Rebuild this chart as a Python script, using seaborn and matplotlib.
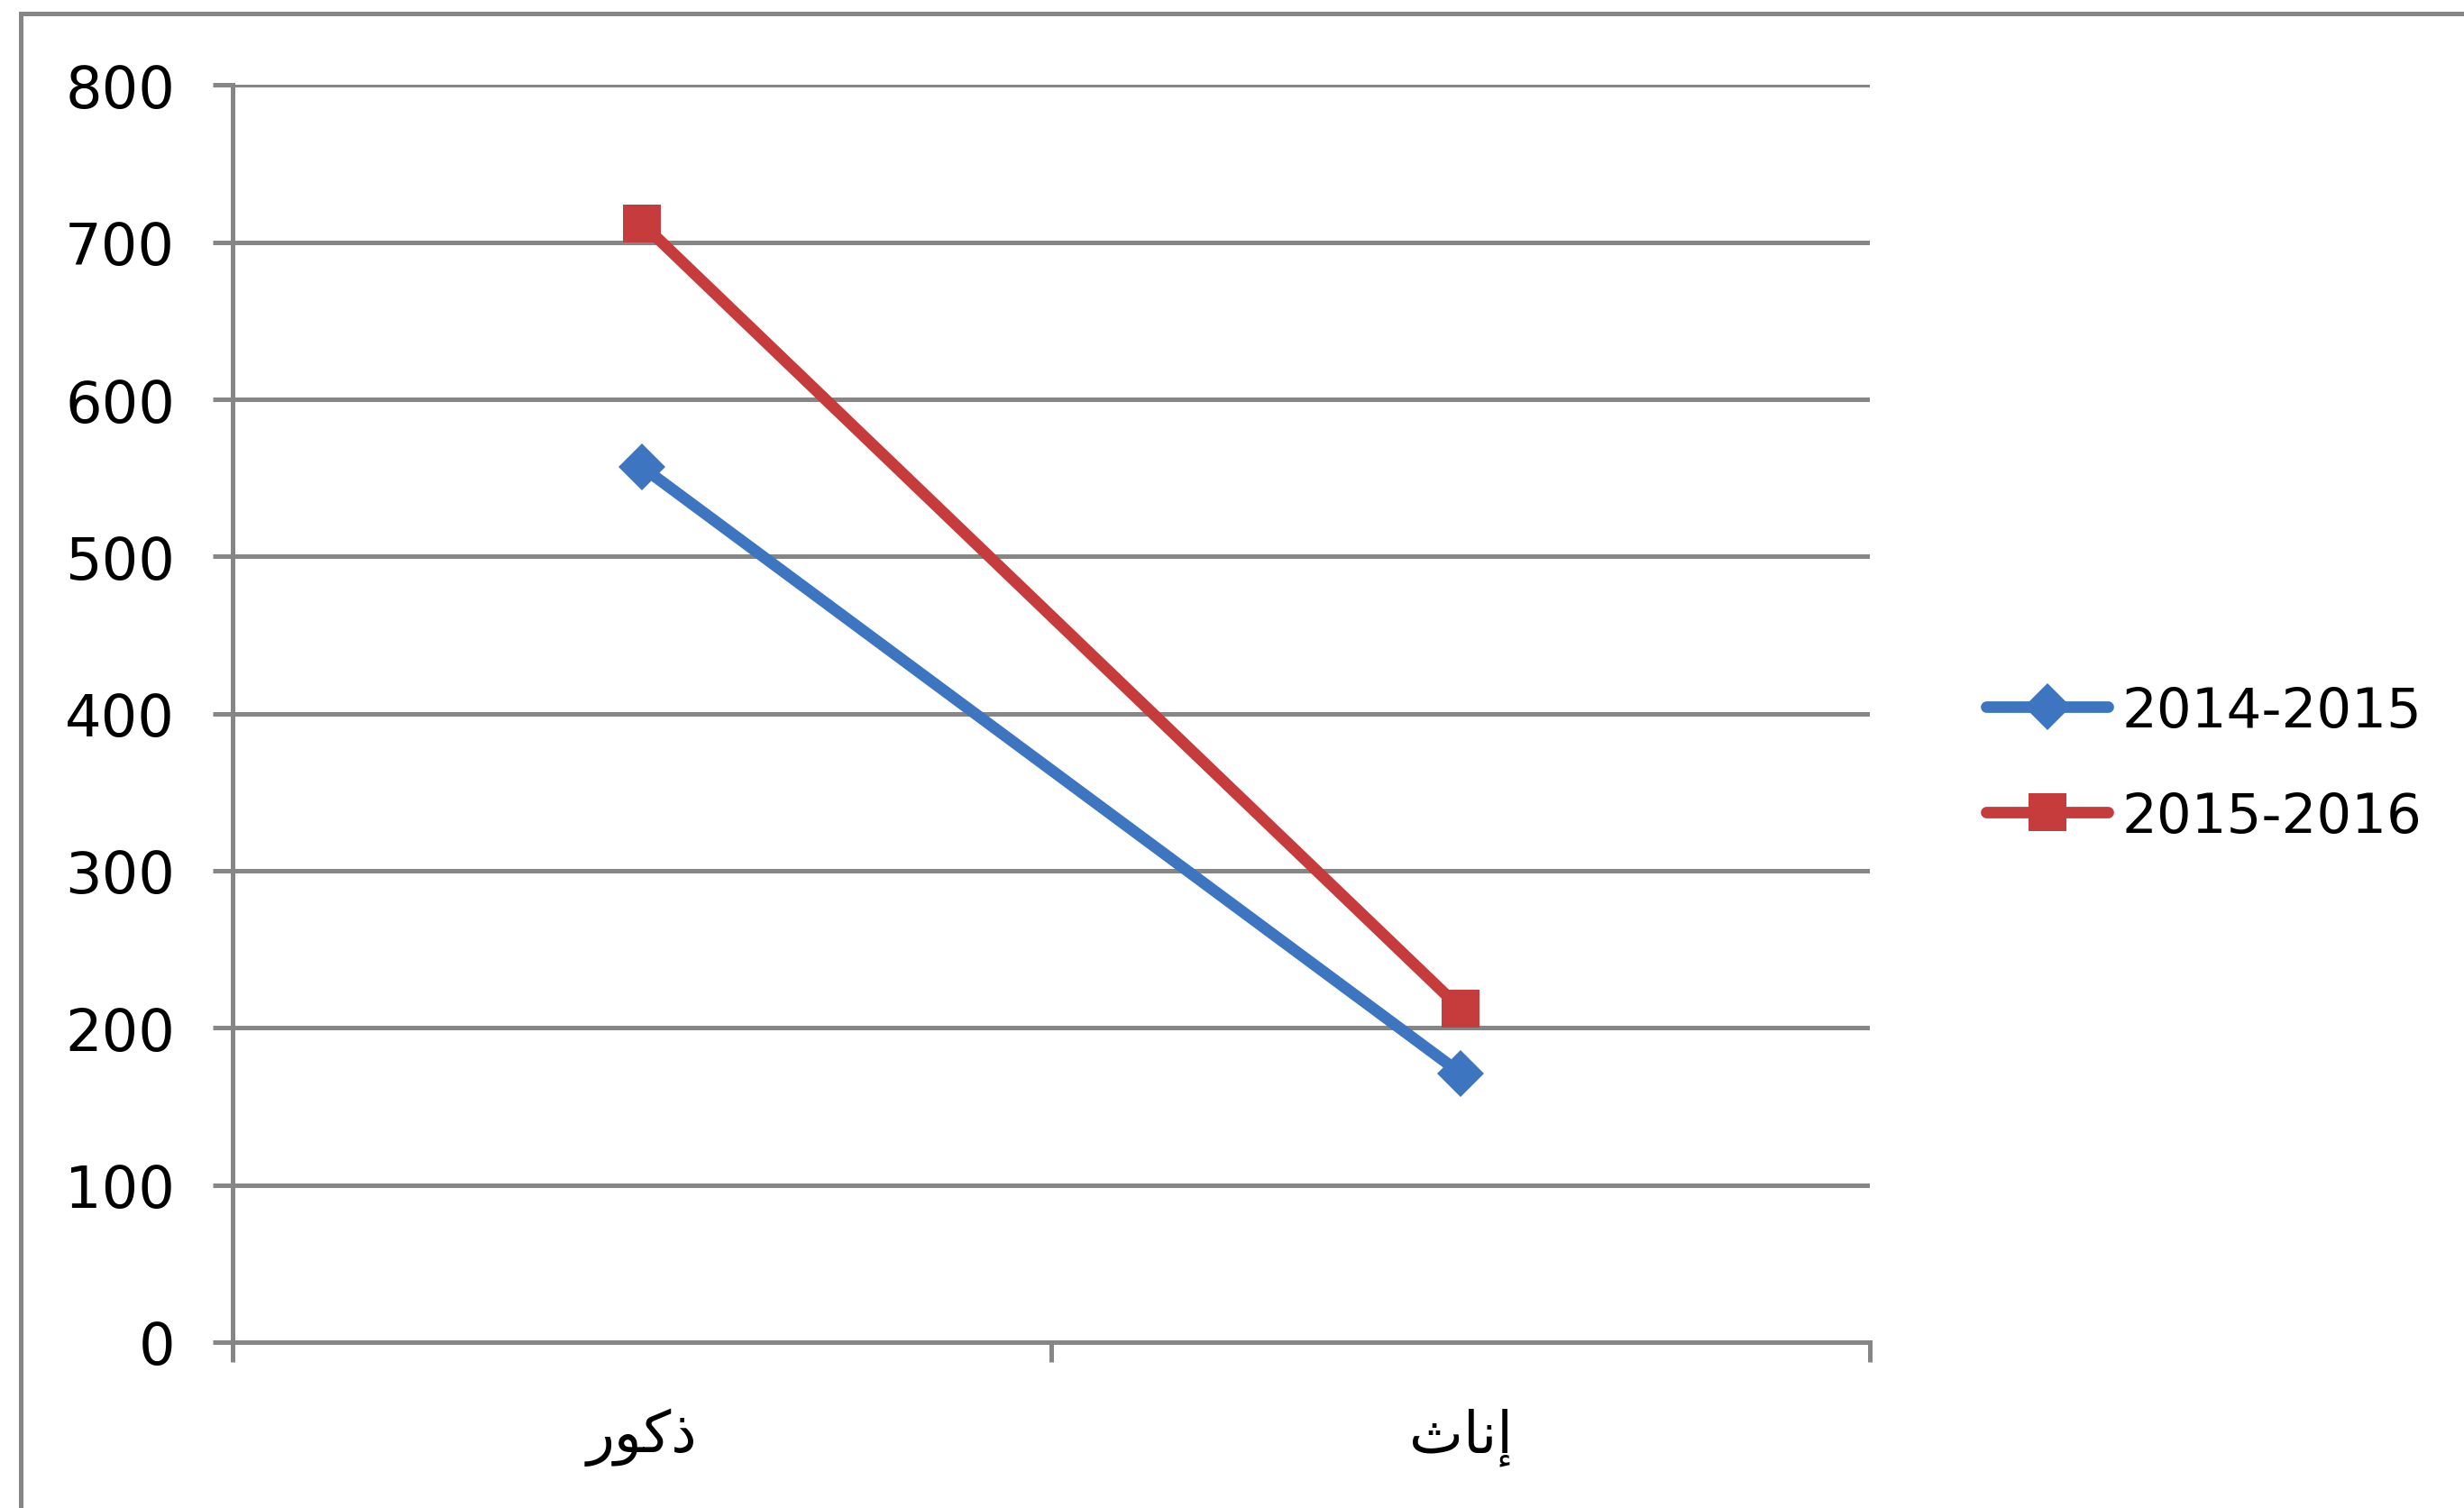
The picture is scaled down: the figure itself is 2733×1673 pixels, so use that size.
import matplotlib
matplotlib.use("agg")
import matplotlib.pyplot as plt
from matplotlib.patches import Rectangle
import pandas as pd
import seaborn as sns

# categories (logical Arabic) and their shaped display forms (visual order)
categories = ["ذكور", "إناث"]
display_labels = ["\uFEAD\uFEEE\uFEDB\uFEAB", "\uFE99\uFE8E\uFEE7\uFE87"]
series_names = ["2014-2015", "2015-2016"]
values_2014 = [557, 171]
values_2015 = [712, 212]
y_ticks = [0, 100, 200, 300, 400, 500, 600, 700, 800]

blue = "#3D75C0"
red = "#C63B3B"
grid_gray = "#868686"

df = pd.DataFrame({
    "category": display_labels * 2,
    "value": values_2014 + values_2015,
    "season": [series_names[0]] * 2 + [series_names[1]] * 2,
})

sns.set_style("white")
plt.rcParams["font.family"] = ["DejaVu Sans"]
plt.rcParams["text.color"] = "black"
plt.rcParams["xtick.labelcolor"] = "black"
plt.rcParams["ytick.labelcolor"] = "black"

fig = plt.figure(figsize=(13.665, 8.37), dpi=200)
ax = fig.add_axes([0.0944, 0.110, 0.6646, 0.833])

sns.lineplot(data=df, x="category", y="value", hue="season", style="season",
             palette=[blue, red], markers=["D", "s"], dashes=False,
             linewidth=4.6, markeredgewidth=0, ax=ax, sort=False)
marker_sizes = [13, 15]
for line, ms in zip(ax.lines[:2], marker_sizes):
    line.set_markersize(ms)

ax.set_xlim(-0.5, 1.5)
ax.set_ylim(0, 800)
ax.set_yticks(y_ticks)
ax.set_xticks([0, 1])
ax.set_xticklabels(display_labels)
ax.set_xticks([-0.5, 0.5, 1.5], minor=True)
ax.set_xlabel("")
ax.set_ylabel("")

ax.yaxis.grid(True, color=grid_gray, linewidth=1.8)
ax.xaxis.grid(False)
ax.set_axisbelow(True)
for side in ["top", "right"]:
    ax.spines[side].set_visible(False)
for side in ["left", "bottom"]:
    ax.spines[side].set_color(grid_gray)
    ax.spines[side].set_linewidth(1.8)

ax.tick_params(axis="y", which="major", direction="out", length=8, width=1.8,
               color=grid_gray, labelsize=23, pad=15, left=True)
ax.tick_params(axis="x", which="major", length=0, labelsize=23, pad=26)
ax.tick_params(axis="x", which="minor", direction="out", length=8, width=1.8,
               color=grid_gray, bottom=True)

handles, labels = ax.get_legend_handles_labels()
leg = ax.legend(handles, labels, loc="center left", bbox_to_anchor=(0.795, 0.493),
                bbox_transform=fig.transFigure, frameon=False, fontsize=22,
                handlelength=2.2, handletextpad=0.25, labelspacing=0.95,
                borderpad=0)
for h, ms in zip(leg.legend_handles, marker_sizes):
    h.set_markersize(ms)
    h.set_linewidth(4.6)
    h.set_markeredgewidth(0)

# outer chart border
fig.patches.append(Rectangle((23 / 2733, -0.05), 1.1, 1 - 16 / 1674 + 0.05,
                             transform=fig.transFigure, fill=False,
                             edgecolor=grid_gray, linewidth=1.8))

fig.savefig("out.png", dpi=200, facecolor="white")
